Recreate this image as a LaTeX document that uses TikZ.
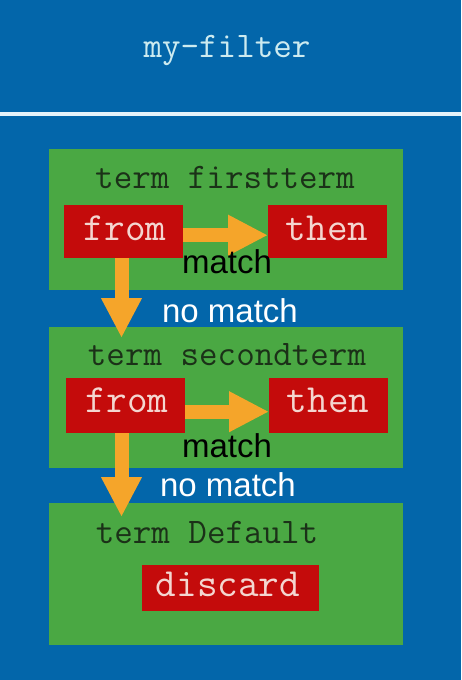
\documentclass[tikz,border=0pt]{standalone}
\usepackage{fontspec}
\newfontfamily\labelsans{Liberation Sans}
\usetikzlibrary{arrows.meta,calc}
\definecolor{bgblue}{HTML}{0366AA}
\definecolor{rulewhite}{HTML}{E6F3FA}
\definecolor{termgreen}{HTML}{4AA843}
\definecolor{actred}{HTML}{C40B0B}
\definecolor{flowarrow}{HTML}{F5A52A}
\definecolor{titletext}{HTML}{CDEBF0}
\definecolor{termtext}{HTML}{1B3118}
\definecolor{acttext}{HTML}{F4D6D0}
\tikzset{
  termbox/.style={fill=termgreen, anchor=north west, inner sep=0pt},
  actbox/.style={fill=actred, anchor=north west, inner sep=0pt},
  titlelabel/.style={anchor=base, inner sep=0pt, text=titletext,
    font=\fontsize{36}{40}\selectfont\ttfamily},
  termlabel/.style={anchor=base, inner sep=0pt, text=termtext,
    font=\fontsize{36}{40}\selectfont\ttfamily},
  actlabel/.style={anchor=base, inner sep=0pt, text=acttext,
    font=\fontsize{40}{44}\selectfont\ttfamily},
  matchlabel/.style={anchor=base, inner sep=0pt, text=black,
    font=\fontsize{33}{36}\selectfont\labelsans},
  nomatchlabel/.style={anchor=base, inner sep=0pt, text=white,
    font=\fontsize{33}{36}\selectfont\labelsans},
  flow/.style={draw=flowarrow, line width=14pt,
    -{Triangle[length=40pt,width=38pt]}, shorten >=0pt},
}
\begin{document}
\begin{tikzpicture}[x=1pt,y=-1pt]
  % canvas and header rule
  \fill[bgblue] (0,0) rectangle (461,680);
  \useasboundingbox (0,0) rectangle (461,680);
  \fill[rulewhite] (0,112) rectangle (461,116);
  \node[titlelabel] (title) at (227,57) {my-filter};

  % term containers
  \node[termbox, minimum width=354pt, minimum height=141pt] (term1) at (49,149) {};
  \node[termbox, minimum width=354pt, minimum height=141pt] (term2) at (49,327) {};
  \node[termbox, minimum width=354pt, minimum height=142pt] (term3) at (49,503) {};

  % action boxes
  \node[actbox, minimum width=119pt, minimum height=53pt] (from1) at (64,205) {};
  \node[actbox, minimum width=119pt, minimum height=53pt] (then1) at (268,205) {};
  \node[actbox, minimum width=119pt, minimum height=55pt] (from2) at (66,378) {};
  \node[actbox, minimum width=119pt, minimum height=55pt] (then2) at (269,378) {};
  \node[actbox, minimum width=177pt, minimum height=46pt] (discard) at (142,565) {};

  % arrow end points inside the next term box
  \coordinate (drop1) at (121.5,338);
  \coordinate (drop2) at (121.5,517);

  % flow arrows
  \draw[flow] ($(from1.east)+(0,3.5)$) -- ($(then1.west)+(0,3.5)$);
  \draw[flow] ($(from2.east)+(0,6)$) -- ($(then2.west)+(0,6)$);
  \draw[flow] (from1.south -| drop1) -- (drop1);
  \draw[flow] (from2.south -| drop2) -- (drop2);

  % labels
  \node[termlabel] (t1) at (225,188) {term firstterm};
  \node[termlabel] (t2) at (227,365) {term secondterm};
  \node[termlabel] (t3) at (207,543) {term Default};
  \node[actlabel] (f1) at (125,240) {from};
  \node[actlabel] (h1) at (327,240) {then};
  \node[actlabel] (f2) at (127,412) {from};
  \node[actlabel] (h2) at (328,412) {then};
  \node[actlabel] (d) at (228,596) {discard};
  \node[matchlabel] (m1) at (227,273) {match};
  \node[matchlabel] (m2) at (227,457) {match};
  \node[nomatchlabel] (n1) at (230,322) {no match};
  \node[nomatchlabel] (n2) at (228,496) {no match};
\end{tikzpicture}
\end{document}
